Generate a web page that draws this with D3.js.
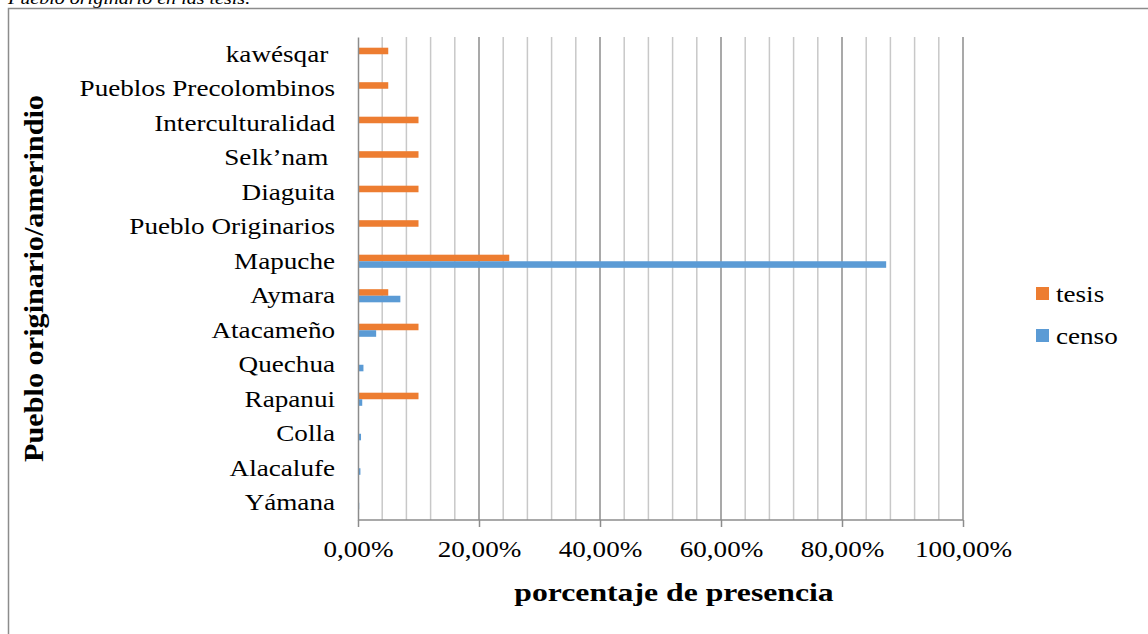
<!DOCTYPE html>
<html>
<head>
<meta charset="utf-8">
<script src="https://cdn.jsdelivr.net/npm/d3@7"></script>
<style>
  body { margin: 0; background: #fff; }
  svg { display: block; font-family: "Liberation Serif", "Times New Roman", serif; }
</style>
</head>
<body>
<svg id="chart" width="1148" height="634"></svg>
<script>
// categories, top to bottom
const pueblos = ["kawésqar ", "Pueblos Precolombinos", "Interculturalidad", "Selk’nam ", "Diaguita",
  "Pueblo Originarios", "Mapuche", "Aymara", "Atacameño", "Quechua", "Rapanui", "Colla", "Alacalufe", "Yámana"];
// percent values
const tesis = [5, 5, 10, 10, 10, 10, 25, 5, 10, 0, 10, 0, 0, 0];
const censo = [0, 0, 0, 0, 0, 0, 87.3, 7.0, 3.0, 0.9, 0.7, 0.5, 0.4, 0.2];
const series = [
  { name: "tesis", values: tesis, color: "#ED7D31" },
  { name: "censo", values: censo, color: "#5B9BD5" }
];
const xTicks = [0, 20, 40, 60, 80, 100];

const svg = d3.select("#chart");
const margin = { top: 37, left: 358, right: 185, bottom: 114 };
const width = 1148, height = 634;
const fs = 23, sx = 1.18; // the source picture is a bit wider than tall

// widen text horizontally around its own anchor x
function stretch(sel, s) {
  sel.each(function () {
    const x0 = +this.getAttribute("x") || 0;
    d3.select(this).attr("transform", `translate(${x0},0) scale(${s},1) translate(${-x0},0)`);
  });
}

// caption cut off at the top
svg.append("text")
  .attr("x", 8).attr("y", 4)
  .attr("font-size", 17).attr("font-style", "italic")
  .text("Pueblo originario en las tesis.")
  .call(stretch, sx);

// chart frame
svg.append("path")
  .attr("d", `M8.5,${height}V8.5H${width}`)
  .attr("fill", "none").attr("stroke", "#8c8c8c").attr("stroke-width", 1.5);

const x = d3.scaleLinear().domain([0, 100]).range([margin.left, width - margin.right]);
const y = d3.scaleBand().domain(pueblos).range([margin.top, height - margin.bottom]);
const ySub = d3.scaleBand().domain(series.map(s => s.name))
  .range([y.bandwidth() * 0.31, y.bandwidth() * 0.69]);

// gridlines every 4%, darker every 20%
svg.append("g").selectAll("line")
  .data(d3.range(4, 101, 4))
  .join("line")
  .attr("x1", d => x(d)).attr("x2", d => x(d))
  .attr("y1", margin.top).attr("y2", height - margin.bottom)
  .attr("stroke", d => d % 20 === 0 ? "#8c8c8c" : "#c8c8c8")
  .attr("stroke-width", 1.5);

// bars
svg.append("g").selectAll("g")
  .data(series)
  .join("g")
  .attr("fill", s => s.color)
  .selectAll("rect")
  .data(s => s.values.map((v, i) => ({ s, v, cat: pueblos[i] })))
  .join("rect")
  .attr("x", x(0))
  .attr("y", d => y(d.cat) + ySub(d.s.name))
  .attr("width", d => x(d.v) - x(0))
  .attr("height", ySub.bandwidth());

// x axis
const xAxis = svg.append("g")
  .attr("transform", `translate(0,${height - margin.bottom})`)
  .call(d3.axisBottom(x).tickValues(xTicks).tickSize(7)
    .tickFormat(d => d3.format(".2f")(d).replace(".", ",") + "%"));
xAxis.select(".domain").attr("stroke", "#8c8c8c").attr("stroke-width", 1.5)
  .attr("d", `M${x(0)},0H${x(100)}`);
xAxis.selectAll(".tick line").attr("stroke", "#8c8c8c").attr("stroke-width", 1.5);
xAxis.selectAll(".tick text")
  .attr("font-family", "Liberation Serif, serif").attr("font-size", fs)
  .attr("fill", "#000").attr("dy", "1.17em")
  .call(stretch, sx);

// y axis (labels only, left line)
const yAxis = svg.append("g")
  .attr("transform", `translate(${margin.left},0)`)
  .call(d3.axisLeft(y).tickSize(0).tickPadding(23));
yAxis.select(".domain").attr("stroke", "#8c8c8c").attr("stroke-width", 1.5);
yAxis.selectAll(".tick text")
  .attr("font-family", "Liberation Serif, serif").attr("font-size", fs)
  .attr("fill", "#000").attr("xml:space", "preserve")
  .call(stretch, sx);

// axis titles
svg.append("text")
  .attr("x", 674).attr("y", 601)
  .attr("text-anchor", "middle")
  .attr("font-size", 26).attr("font-weight", "bold")
  .text("porcentaje de presencia")
  .call(stretch, 1.22);

svg.append("g")
  .attr("transform", `translate(43,${(margin.top + height - margin.bottom) / 2}) rotate(-90)`)
  .append("text")
  .attr("text-anchor", "middle")
  .attr("font-size", 27).attr("font-weight", "bold")
  .text("Pueblo originario/amerindio")
  .call(stretch, 1.12);

// legend
const legend = svg.append("g").attr("transform", "translate(1036,287)")
  .selectAll("g")
  .data(series)
  .join("g")
  .attr("transform", (d, i) => `translate(0,${i * 42})`);
legend.append("rect").attr("width", 13).attr("height", 13).attr("fill", d => d.color);
legend.append("text")
  .attr("x", 20).attr("y", 15)
  .attr("font-size", fs)
  .text(d => d.name)
  .call(stretch, sx);
</script>
</body>
</html>
